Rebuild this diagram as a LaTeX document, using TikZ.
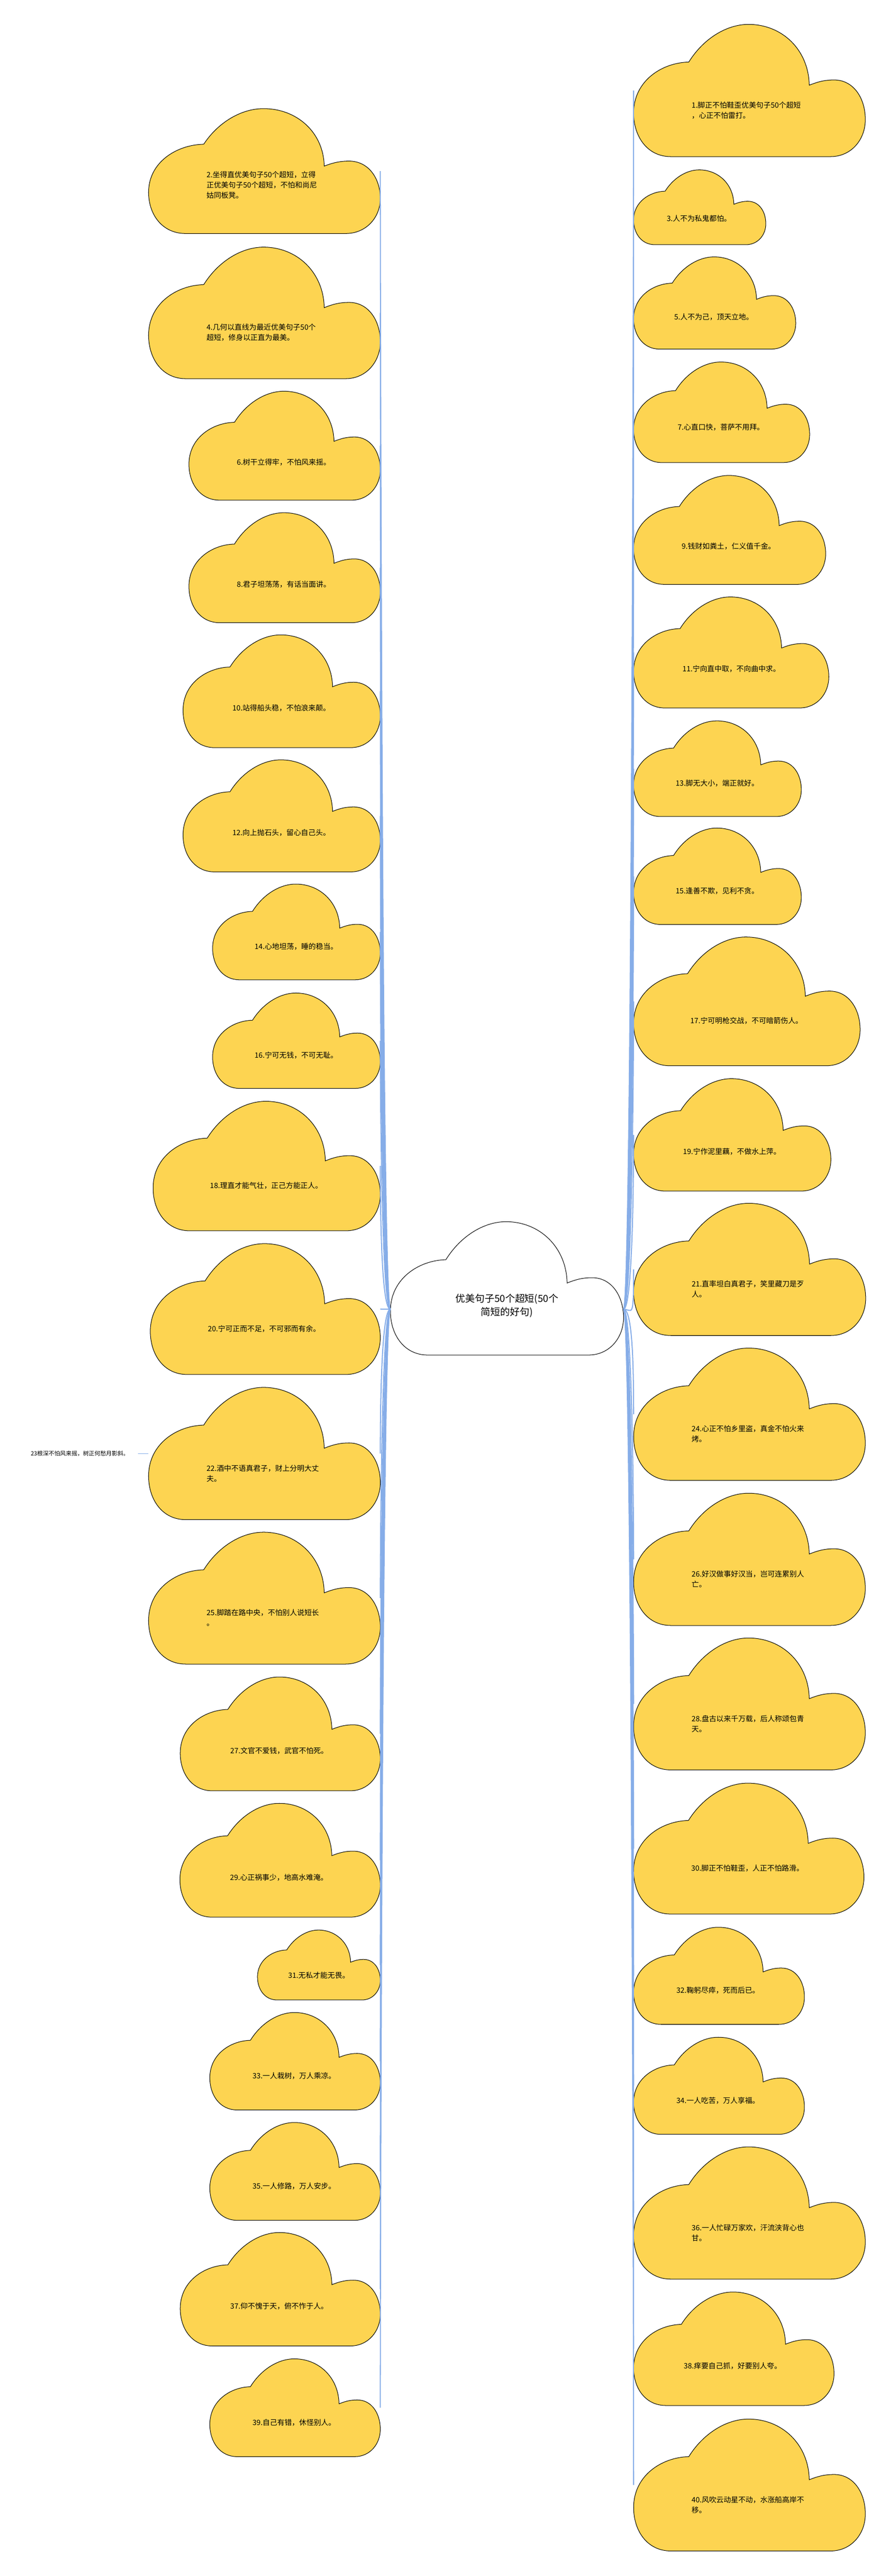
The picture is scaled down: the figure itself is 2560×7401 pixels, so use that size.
\documentclass[tikz,border=0pt]{standalone}
\usepackage{fontspec}
\setmainfont{Noto Sans CJK SC}
\usetikzlibrary{calc}
\definecolor{cloudyellow}{HTML}{FDD451}
\definecolor{branchblue}{HTML}{86ADE8}

% cloud with its text: [text height] name, left, top, width, height, text
\newcommand{\cloudnote}[7][0.65]{%
  \pic[xscale=#5, yscale=#6] at (#3,#4) {cloudpic=cloudyellow};
  \node[cloudbox, minimum width=#5pt, minimum height=#6pt] (#2) at (#3+#5/2, #4+#6/2) {};
  \node[cloudtext] (#2-t) at (#3+0.25*#5, #4+#1*#6) {#7};
}

\begin{document}
\begin{tikzpicture}[x=1pt, y=-1pt,
    bubble/.style={draw=black, line width=1.5pt},
    cloudbox/.style={rectangle, inner sep=0pt, outer sep=0pt},
    cloudtext/.style={anchor=west, align=left, inner sep=0pt, font=\fontsize{21}{29.5}\selectfont},
    branch/.style={draw=branchblue, line width=3pt},
    pics/cloudpic/.style={code={
      \path[bubble, fill=#1] (0.16,1) .. controls (0.06,1) and (0,0.85) .. (0,0.67)
        .. controls (0,0.43) and (0.12,0.29) .. (0.238,0.285)
        .. controls (0.30,0.11) and (0.40,0) .. (0.496,0)
        .. controls (0.64,0) and (0.755,0.19) .. (0.758,0.46)
        .. controls (0.80,0.43) and (0.83,0.42) .. (0.865,0.42)
        .. controls (0.95,0.42) and (1,0.56) .. (1,0.72)
        .. controls (1,0.87) and (0.94,1) .. (0.85,1) -- cycle;
    }}]
    \useasboundingbox (0,0) rectangle (2560,7401);
    \fill[white] (0,0) rectangle (2560,7401);

    % root
    \pic[xscale=670, yscale=383] at (1122,3510) {cloudpic=white};
    \node[cloudbox, minimum width=670pt, minimum height=383pt] (root) at (1457,3701.5) {};
    \node[align=center, inner sep=0pt, font=\fontsize{28}{38}\selectfont] (root-t) at (1457,3751) {优美句子50个超短(50个\\简短的好句)};

    % left side
    \cloudnote[0.613]{c2}{427}{312}{666}{359}{2.坐得直优美句子50个超短，立得\\正优美句子50个超短，不怕和尚尼\\姑同板凳。}
    \cloudnote{c4}{427}{710}{666}{378}{4.几何以直线为最近优美句子50个\\超短，修身以正直为最美。}
    \cloudnote{c6}{543}{1124}{550}{313}{6.树干立得牢，不怕风来摇。}
    \cloudnote{c8}{543}{1473}{550}{316}{8.君子坦荡荡，有话当面讲。}
    \cloudnote{c10}{526}{1824}{567}{324}{10.站得船头稳，不怕浪来颠。}
    \cloudnote{c12}{526}{2183}{567}{322}{12.向上抛石头，留心自己头。}
    \cloudnote{c14}{611}{2540}{482}{275}{14.心地坦荡，睡的稳当。}
    \cloudnote{c16}{611}{2853}{482}{274}{16.宁可无钱，不可无耻。}
    \cloudnote{c18}{440}{3164}{653}{372}{18.理直才能气壮，正己方能正人。}
    \cloudnote{c20}{432}{3573}{661}{376}{20.宁可正而不足，不可邪而有余。}
    \cloudnote{c22}{427}{3986}{666}{380}{22.酒中不语真君子，财上分明大丈\\夫。}
    \cloudnote{c25}{427}{4402}{666}{379}{25.脚踏在路中央，不怕别人说短长\\。}
    \cloudnote{c27}{518}{4818}{575}{327}{27.文官不爱钱，武官不怕死。}
    \cloudnote{c29}{517}{5181}{576}{327}{29.心正祸事少，地高水难淹。}
    \cloudnote{c31}{740}{5545}{353}{201}{31.无私才能无畏。}
    \cloudnote{c33}{603}{5782}{490}{280}{33.一人栽树，万人乘凉。}
    \cloudnote{c35}{603}{6098}{490}{281}{35.一人修路，万人安步。}
    \cloudnote{c37}{518}{6414}{575}{326}{37.仰不愧于天，俯不怍于人。}
    \cloudnote{c39}{603}{6777}{490}{281}{39.自己有错，休怪别人。}

    % right side
    \cloudnote{c1}{1821}{70}{666}{380}{1.脚正不怕鞋歪优美句子50个超短\\，心正不怕雷打。}
    \cloudnote{c3}{1821}{488}{380}{215}{3.人不为私鬼都怕。}
    \cloudnote{c5}{1821}{738}{466}{265}{5.人不为己，顶天立地。}
    \cloudnote{c7}{1821}{1040}{506}{289}{7.心直口快，菩萨不用拜。}
    \cloudnote{c9}{1821}{1366}{552}{313}{9.钱财如粪土，仁义值千金。}
    \cloudnote{c11}{1821}{1715}{561}{319}{11.宁向直中取，不向曲中求。}
    \cloudnote{c13}{1821}{2071}{482}{275}{13.脚无大小，端正就好。}
    \cloudnote{c15}{1821}{2379}{482}{277}{15.逢善不欺，见利不贪。}
    \cloudnote{c17}{1821}{2692}{651}{370}{17.宁可明枪交战，不可暗箭伤人。}
    \cloudnote{c19}{1821}{3099}{567}{323}{19.宁作泥里藕，不做水上萍。}
    \cloudnote{c21}{1821}{3457}{667}{380}{21.直率坦白真君子，笑里藏刀是歹\\人。}
    \cloudnote{c24}{1821}{3873}{666}{380}{24.心正不怕乡里盗，真金不怕火来\\烤。}
    \cloudnote{c26}{1821}{4290}{666}{380}{26.好汉做事好汉当，岂可连累别人\\亡。}
    \cloudnote{c28}{1821}{4706}{666}{379}{28.盘古以来千万载，后人称颂包青\\天。}
    \cloudnote{c30}{1821}{5123}{662}{376}{30.脚正不怕鞋歪，人正不怕路滑。}
    \cloudnote{c32}{1821}{5537}{491}{279}{32.鞠躬尽瘁，死而后已。}
    \cloudnote{c34}{1821}{5853}{491}{279}{34.一人吃苦，万人享福。}
    \cloudnote{c36}{1821}{6168}{666}{380}{36.一人忙碌万家欢，汗流浃背心也\\甘。}
    \cloudnote{c38}{1821}{6585}{576}{326}{38.痒要自己抓，好要别人夸。}
    \cloudnote{c40}{1821}{6950}{666}{379}{40.风吹云动星不动，水涨船高岸不\\移。}

    % the one leaf of 22
    \node[anchor=east, inner sep=0pt, inner xsep=25pt, font=\fontsize{16.5}{20}\selectfont] (t23) at (396,4176) {23根深不怕风来摇，树正何愁月影斜。};
    \draw[branch, line width=2pt] (c22.west) -- (t23.east);

    \foreach \c/\s in {c2/1, c4/1, c6/1, c8/1, c10/1, c12/1, c14/1, c16/1, c18/1, c20/0,
        c22/-1, c25/-1, c27/-1, c29/-1, c31/-1, c33/-1, c35/-1, c37/-1, c39/-1}
      \draw[branch] ([yshift=-60pt]root.west) .. controls +(-25,0) and +(0,150*\s) .. (\c.east);
    \foreach \c/\s in {c1/1, c3/1, c5/1, c7/1, c9/1, c11/1, c13/1, c15/1, c17/1, c19/1, c21/1,
        c24/-1, c26/-1, c28/-1, c30/-1, c32/-1, c34/-1, c36/-1, c38/-1, c40/-1}
      \draw[branch] ([yshift=-60pt]root.east) .. controls +(25,0) and +(0,150*\s) .. (\c.west);
\end{tikzpicture}
\end{document}
